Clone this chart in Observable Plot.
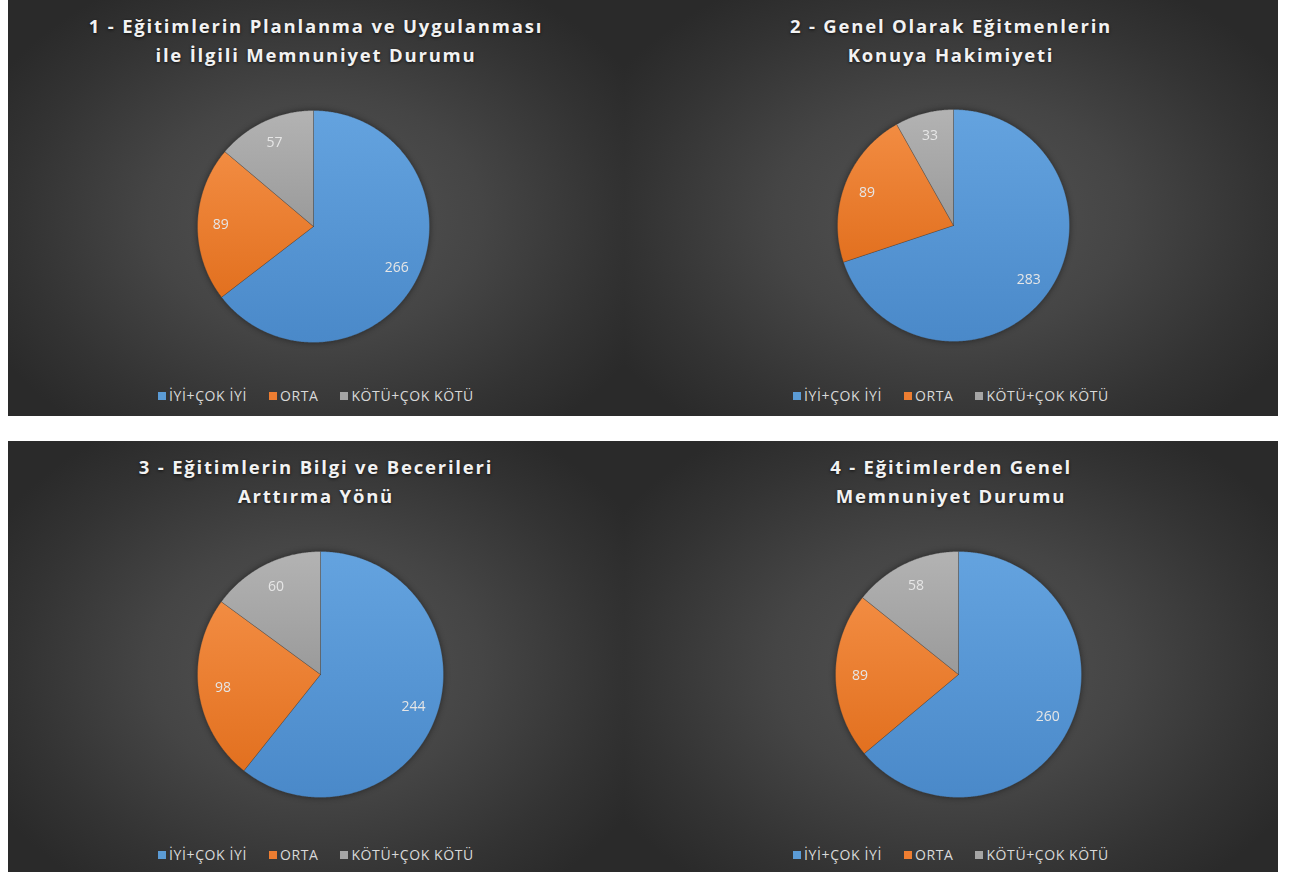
<!DOCTYPE html>
<html>
<head>
<meta charset="utf-8">
<script src="https://cdn.jsdelivr.net/npm/d3@7"></script>
<script src="https://cdn.jsdelivr.net/npm/@observablehq/plot@0.6"></script>
<style>
  html, body { margin: 0; padding: 0; background: #ffffff; }
  #root { position: relative; width: 1295px; height: 872px; overflow: hidden; }
  .panel { position: absolute; overflow: hidden;
    background: radial-gradient(ellipse 60% 65% at 50% 52%, #545454 0%, #454545 45%, #333333 80%, #2a2a2a 100%); }
  .title { position: absolute; left: 0; width: 100%; text-align: center;
    font-family: "Open Sans", sans-serif; font-weight: 700; font-size: 18.5px; line-height: 29px;
    letter-spacing: 1.8px; color: #f2f2f2; text-shadow: 0 1px 3px rgba(0,0,0,0.7); }
  .legend { position: absolute; left: 0; width: 100%; display: flex; justify-content: center; align-items: center;
    font-family: "Open Sans", sans-serif; font-size: 14px; line-height: 16px; color: #d9d9d9; letter-spacing: 0.6px; }
  .legend .item { display: flex; align-items: center; margin: 0 11px; }
  .legend .sw { width: 8px; height: 8px; margin-right: 3px; }
  .pie { position: absolute; filter: drop-shadow(0 0 3px rgba(0,0,0,0.45)); }
</style>
</head>
<body>
<svg width="0" height="0" style="position:absolute">
  <defs>
    <linearGradient id="gBlue" x1="0" y1="0" x2="0" y2="1">
      <stop offset="0" stop-color="#64a3df"/><stop offset="1" stop-color="#4a89c9"/>
    </linearGradient>
    <linearGradient id="gOrange" x1="0" y1="0" x2="0" y2="1">
      <stop offset="0" stop-color="#f28c42"/><stop offset="1" stop-color="#e2701f"/>
    </linearGradient>
    <linearGradient id="gGray" x1="0" y1="0" x2="0" y2="1">
      <stop offset="0" stop-color="#b3b3b3"/><stop offset="1" stop-color="#9a9a9a"/>
    </linearGradient>
  </defs>
</svg>
<div id="root"></div>
<script>
// ---- data ----
const categories = ["İYİ+ÇOK İYİ", "ORTA", "KÖTÜ+ÇOK KÖTÜ"];
const titles = [
  ["1 - Eğitimlerin Planlanma ve Uygulanması", "ile İlgili Memnuniyet Durumu"],
  ["2 - Genel Olarak Eğitmenlerin", "Konuya Hakimiyeti"],
  ["3 - Eğitimlerin Bilgi ve Becerileri", "Arttırma Yönü"],
  ["4 - Eğitimlerden Genel", "Memnuniyet Durumu"]
];
const q1 = [266, 89, 57];
const q2 = [283, 89, 33];
const q3 = [244, 98, 60];
const q4 = [260, 89, 58];
const seriesList = [q1, q2, q3, q4];

// ---- style / layout ----
const swatch = ["#5b9bd5", "#ed7d31", "#a5a5a5"];
const fills = ["url(#gBlue)", "url(#gOrange)", "url(#gGray)"];
const layouts = [
  {left: 8,   top: 0,   w: 616, h: 416, cx: 305, cy: 226, r: 116, lg: 388},
  {left: 624, top: 0,   w: 654, h: 416, cx: 329, cy: 225, r: 116, lg: 388},
  {left: 8,   top: 441, w: 616, h: 431, cx: 312, cy: 233, r: 123, lg: 406},
  {left: 624, top: 441, w: 654, h: 431, cx: 334, cy: 233, r: 123, lg: 406}
];

const root = document.getElementById("root");

seriesList.forEach((vals, i) => {
  const L = layouts[i];
  const panel = document.createElement("div");
  panel.className = "panel";
  Object.assign(panel.style, {left: L.left + "px", top: L.top + "px", width: L.w + "px", height: L.h + "px"});
  root.appendChild(panel);

  const t = document.createElement("div");
  t.className = "title";
  t.style.top = "11px";
  t.innerHTML = titles[i].join("<br>");
  panel.appendChild(t);

  const rows = categories.map((c, j) => ({category: c, value: vals[j]}));
  const arcs = d3.pie().sort(null).value(d => d.value)(rows);
  const poly = [];
  const labels = [];
  arcs.forEach(a => {
    const c = a.data.category;
    poly.push({category: c, px: 0, py: 0});
    const n = Math.max(2, Math.ceil((a.endAngle - a.startAngle) / (Math.PI / 360)));
    for (let k = 0; k <= n; k++) {
      const ang = a.startAngle + (a.endAngle - a.startAngle) * k / n;
      poly.push({category: c, px: Math.sin(ang), py: Math.cos(ang)});
    }
    poly.push({category: c, px: 0, py: 0});
    const mid = (a.startAngle + a.endAngle) / 2;
    labels.push({category: c, value: a.data.value, px: 0.8 * Math.sin(mid), py: 0.8 * Math.cos(mid)});
  });

  const size = 2 * L.r;
  const chart = Plot.plot({
    width: size, height: size,
    margin: 0,
    x: {domain: [-1, 1], axis: null},
    y: {domain: [-1, 1], axis: null},
    color: {domain: categories, range: fills},
    style: {background: "transparent", overflow: "visible"},
    marks: [
      Plot.line(poly, {x: "px", y: "py", z: "category", fill: "category", stroke: "rgba(60,60,60,0.5)", strokeWidth: 0.6, curve: "linear"}),
      Plot.text(labels, {x: "px", y: "py", text: d => String(d.value), fill: "#e6e6e6",
        fontSize: 14, fontFamily: "Open Sans, sans-serif"})
    ]
  });
  chart.classList.add("pie");
  chart.style.left = (L.cx - L.r) + "px";
  chart.style.top = (L.cy - L.r) + "px";
  panel.appendChild(chart);

  const lg = document.createElement("div");
  lg.className = "legend";
  lg.style.top = L.lg + "px";
  categories.forEach((c, j) => {
    const it = document.createElement("div");
    it.className = "item";
    const sw = document.createElement("span");
    sw.className = "sw";
    sw.style.background = swatch[j];
    const tx = document.createElement("span");
    tx.textContent = c;
    it.appendChild(sw); it.appendChild(tx);
    lg.appendChild(it);
  });
  panel.appendChild(lg);
});
</script>
</body>
</html>
